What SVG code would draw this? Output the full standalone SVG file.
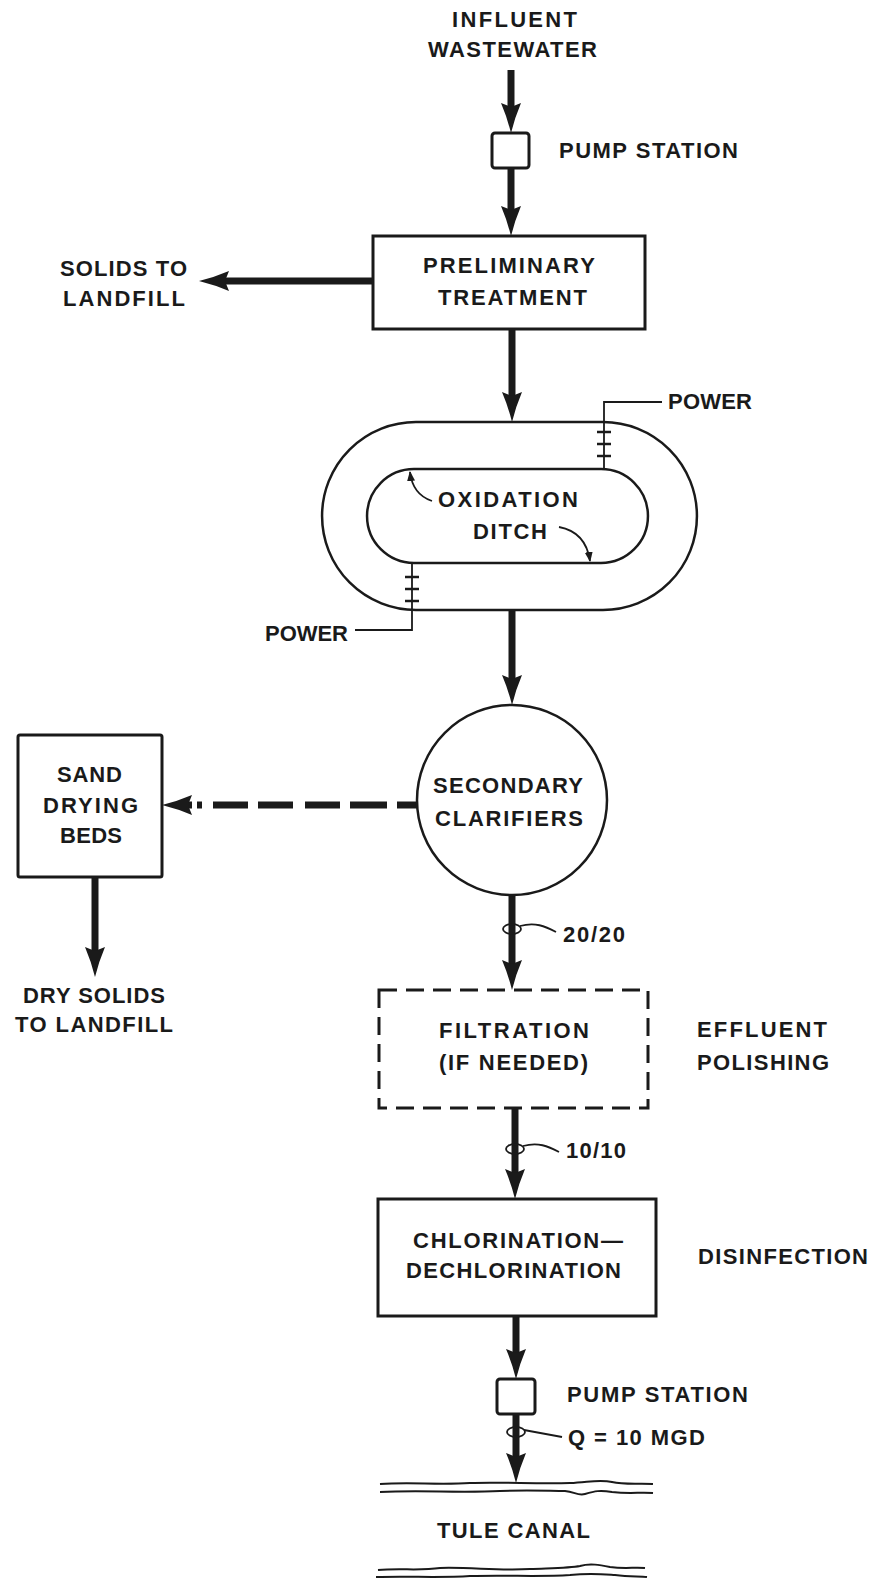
<svg xmlns="http://www.w3.org/2000/svg" width="879" height="1579" viewBox="0 0 879 1579">
<style>
text{font-family:"Liberation Sans",Arial,sans-serif;font-weight:bold;font-size:22px;fill:#1a1a1a}
.box{fill:#fff;stroke:#1a1a1a;stroke-width:3}
.thin{fill:none;stroke:#1a1a1a;stroke-width:2.5}
.flow{fill:none;stroke:#1a1a1a;stroke-width:7;marker-end:url(#ah)}
.lead{fill:none;stroke:#1a1a1a;stroke-width:1.8}
.wave{fill:none;stroke:#1a1a1a;stroke-width:2}
</style>
<defs>
<marker id="ah" viewBox="0 0 30 20" refX="10" refY="10" markerWidth="30" markerHeight="20" markerUnits="userSpaceOnUse" orient="auto">
<path d="M0,0 Q14,6 30,10 Q14,14 0,20 L4,10 Z" fill="#1a1a1a"/>
</marker>
<marker id="sm" viewBox="0 0 10 8" refX="9" refY="4" markerWidth="10" markerHeight="8" markerUnits="userSpaceOnUse" orient="auto">
<path d="M0,0 L10,4 L0,8 Z" fill="#1a1a1a"/>
</marker>
</defs>
<rect width="879" height="1579" fill="#fff"/>

<g id="connectors">
<line class="flow" x1="511" y1="70" x2="511" y2="113"/>
<line class="flow" x1="511" y1="168" x2="511" y2="216"/>
<line class="flow" x1="373" y1="281" x2="219" y2="281"/>
<line class="flow" x1="512" y1="329" x2="512" y2="402"/>
<line class="flow" x1="512" y1="610" x2="512" y2="685"/>
<path class="flow" d="M417,805 L182,805" stroke-width="8" stroke-dasharray="20 10 37 10 35 12 35 10 35 11 5 5 10 100"/>
<line class="flow" x1="95" y1="877" x2="95" y2="957"/>
<line class="flow" x1="512" y1="895" x2="512" y2="970"/>
<line class="flow" x1="515" y1="1108" x2="515" y2="1179"/>
<line class="flow" x1="516" y1="1316" x2="516" y2="1359"/>
<line class="flow" x1="516" y1="1414" x2="516" y2="1463"/>
</g>

<g id="influent">
<text x="452" y="27" textLength="125" lengthAdjust="spacing">INFLUENT</text>
<text x="428" y="57" textLength="169" lengthAdjust="spacing">WASTEWATER</text>
</g>

<g id="pump-station-1">
<rect class="box" x="492" y="133" width="37" height="35" rx="3" stroke-width="2.5"/>
<text x="559" y="158" textLength="179" lengthAdjust="spacing">PUMP STATION</text>
</g>

<g id="preliminary-treatment">
<rect class="box" x="373" y="236" width="272" height="93"/>
<text x="423" y="273" textLength="172" lengthAdjust="spacing">PRELIMINARY</text>
<text x="438" y="305" textLength="149" lengthAdjust="spacing">TREATMENT</text>
</g>

<g id="solids-to-landfill">
<text x="60" y="276" textLength="127" lengthAdjust="spacing">SOLIDS TO</text>
<text x="63" y="306" textLength="122" lengthAdjust="spacing">LANDFILL</text>
</g>

<g id="oxidation-ditch">
<path class="thin" d="M416,422 L603,422 A94,94 0 0 1 603,610 L416,610 A94,94 0 0 1 416,422 Z"/>
<path class="thin" d="M414,469 L601,469 A47,47 0 0 1 601,563 L414,563 A47,47 0 0 1 414,469 Z"/>
<text x="438" y="507" textLength="140" lengthAdjust="spacing">OXIDATION</text>
<text x="473" y="539" textLength="74" lengthAdjust="spacing">DITCH</text>
<path class="lead" d="M432,501 C420,497 412,489 410,472" marker-end="url(#sm)"/>
<path class="lead" d="M559,527 C575,530 587,540 590,561" marker-end="url(#sm)"/>
</g>

<g id="power-top">
<polyline class="lead" points="604,469 604,402 662,402"/>
<line class="thin" x1="597" y1="432" x2="611" y2="432"/>
<line class="thin" x1="597" y1="444" x2="611" y2="444"/>
<line class="thin" x1="597" y1="456" x2="611" y2="456"/>
<text x="668" y="409" textLength="84" lengthAdjust="spacing">POWER</text>
</g>

<g id="power-bottom">
<polyline class="lead" points="412,563 412,630 355,630"/>
<line class="thin" x1="405" y1="577" x2="419" y2="577"/>
<line class="thin" x1="405" y1="589" x2="419" y2="589"/>
<line class="thin" x1="405" y1="601" x2="419" y2="601"/>
<text x="265" y="641" textLength="83" lengthAdjust="spacing">POWER</text>
</g>

<g id="secondary-clarifiers">
<circle class="thin" cx="512" cy="800" r="95"/>
<text x="433" y="793" textLength="150" lengthAdjust="spacing">SECONDARY</text>
<text x="435" y="826" textLength="148" lengthAdjust="spacing">CLARIFIERS</text>
</g>

<g id="sand-drying-beds">
<rect class="box" x="18" y="735" width="144" height="142" rx="2"/>
<text x="57" y="782" textLength="65" lengthAdjust="spacing">SAND</text>
<text x="43" y="813" textLength="95" lengthAdjust="spacing">DRYING</text>
<text x="60" y="843" textLength="62" lengthAdjust="spacing">BEDS</text>
</g>

<g id="dry-solids">
<text x="23" y="1003" textLength="142" lengthAdjust="spacing">DRY SOLIDS</text>
<text x="15" y="1032" textLength="158" lengthAdjust="spacing">TO LANDFILL</text>
</g>

<g id="label-20-20">
<ellipse class="lead" cx="512" cy="929" rx="9" ry="5"/>
<path class="lead" d="M520,926 C535,922 545,926 556,932"/>
<text x="563" y="942" textLength="62" lengthAdjust="spacing">20/20</text>
</g>

<g id="filtration">
<rect x="379" y="990" width="269" height="118" fill="#fff" stroke="#1a1a1a" stroke-width="3" stroke-dasharray="18 9"/>
<text x="439" y="1038" textLength="150" lengthAdjust="spacing">FILTRATION</text>
<text x="439" y="1070" textLength="149" lengthAdjust="spacing">(IF NEEDED)</text>
</g>

<g id="effluent-polishing">
<text x="697" y="1037" textLength="130" lengthAdjust="spacing">EFFLUENT</text>
<text x="697" y="1070" textLength="132" lengthAdjust="spacing">POLISHING</text>
</g>

<g id="label-10-10">
<ellipse class="lead" cx="515" cy="1149" rx="9" ry="5"/>
<path class="lead" d="M523,1146 C538,1142 548,1146 559,1152"/>
<text x="566" y="1158" textLength="60" lengthAdjust="spacing">10/10</text>
</g>

<g id="chlorination">
<rect class="box" x="378" y="1199" width="278" height="117"/>
<text x="413" y="1248" textLength="210" lengthAdjust="spacing">CHLORINATION—</text>
<text x="406" y="1278" textLength="215" lengthAdjust="spacing">DECHLORINATION</text>
</g>

<g id="disinfection">
<text x="698" y="1264" textLength="170" lengthAdjust="spacing">DISINFECTION</text>
</g>

<g id="pump-station-2">
<rect class="box" x="497" y="1379" width="38" height="35" rx="3" stroke-width="2.5"/>
<text x="567" y="1402" textLength="181" lengthAdjust="spacing">PUMP STATION</text>
</g>

<g id="label-q">
<ellipse class="lead" cx="516" cy="1432" rx="9" ry="5"/>
<path class="lead" d="M524,1430 L562,1437"/>
<text x="568" y="1445" textLength="137" lengthAdjust="spacing">Q = 10 MGD</text>
</g>

<g id="tule-canal">
<path class="wave" d="M380,1484 C410,1482 440,1485 470,1483 C500,1482 540,1484 570,1483 C590,1482 600,1479 612,1482 C625,1485 640,1483 653,1484"/>
<path class="wave" d="M380,1492 C420,1490 460,1493 500,1491 C530,1490 550,1491 565,1491 C575,1492 578,1496 585,1494 C595,1491 600,1490 612,1492 C630,1494 640,1492 653,1493"/>
<text x="437" y="1538" textLength="153" lengthAdjust="spacing">TULE CANAL</text>
<path class="wave" d="M378,1570 C400,1568 420,1571 440,1568 C470,1567 500,1571 530,1569 C555,1568 570,1568 580,1566 C590,1563 600,1565 610,1567 C625,1569 635,1567 645,1568"/>
<path class="wave" d="M376,1577 C410,1576 440,1578 470,1576 C510,1575 540,1577 570,1575 C590,1573 600,1574 615,1575 C630,1577 640,1576 647,1577"/>
</g>
</svg>
